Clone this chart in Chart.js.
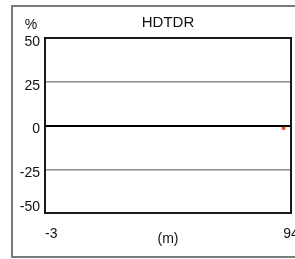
<!DOCTYPE html>
<html><head><meta charset="utf-8">
<script src="https://cdn.jsdelivr.net/npm/chart.js@4/dist/chart.umd.min.js"></script>
<style>html,body{margin:0;padding:0;background:#fff;}#wrap{width:295px;height:259px;}</style>
</head><body><div id="wrap"><canvas id="c" width="295" height="259"></canvas></div>
<script>
const chartTitle = 'HDTDR';
const yUnit = '%';
const xTitle = '(m)';
const xTicks = [-3, 94];
const yTicks = [-50, -25, 0, 25, 50];
const seriesX = [90.4, 91.8];
const seriesY = [-1.6, -1.6];

const FONT = 'Liberation Sans, Arial, sans-serif';

const framePlugin = {
  id: 'frame',
  beforeDraw(chart) {
    const ctx = chart.ctx;
    ctx.save();
    ctx.strokeStyle = '#7a7a7a';
    ctx.lineWidth = 2;
    ctx.strokeRect(12, 6, 300, 251);
    ctx.restore();
    const ys = chart.scales.y;
    const yi = ys.getLabelItems();
    if (!ys._adj) {
      yi.forEach(it => {
        const v = parseFloat(it.label);
        it.options.translation[1] += (v === -50 ? -6 : 4);
      });
      ys._adj = true;
    }
    const xs = chart.scales.x;
    const xi = xs.getLabelItems();
    if (!xs._adj && xi.length) {
      xi[0].options.textAlign = 'left';
      xs._adj = true;
    }
  },
  afterDraw(chart) {
    const ctx = chart.ctx;
    const a = chart.chartArea;
    ctx.save();
    ctx.strokeStyle = '#1a1a1a';
    ctx.lineWidth = 2;
    ctx.strokeRect(a.left, a.top, a.right - a.left, a.bottom - a.top);
    ctx.fillStyle = '#111';
    ctx.font = '14px ' + FONT;
    ctx.textAlign = 'center';
    ctx.textBaseline = 'middle';
    ctx.fillText(yUnit, 31, 25);
    ctx.restore();
  }
};

new Chart(document.getElementById('c'), {
  type: 'line',
  data: {
    datasets: [{
      data: seriesX.map((x, i) => ({x, y: seriesY[i]})),
      borderColor: '#e4501e',
      borderWidth: 3,
      pointRadius: 0,
      fill: false
    }]
  },
  options: {
    responsive: false,
    animation: false,
    layout: {padding: {left: 0, top: 0, right: 4, bottom: 0}},
    plugins: {
      legend: {display: false},
      tooltip: {enabled: false},
      title: {
        display: true, text: chartTitle, fullSize: false,
        color: '#111', font: {family: FONT, size: 15, weight: 'normal'},
        padding: {top: 14, bottom: 6}
      }
    },
    scales: {
      x: {
        type: 'linear', min: xTicks[0], max: xTicks[xTicks.length - 1],
        afterBuildTicks(ax) { ax.ticks = xTicks.map(v => ({value: v})); },
        afterFit(ax) { ax.height = 46; ax.paddingLeft = 0; ax.paddingRight = 0; },
        grid: {display: false, drawTicks: false},
        border: {display: false},
        ticks: {color: '#111', font: {family: FONT, size: 14}, padding: 13, maxRotation: 0, autoSkip: false},
        title: {display: true, text: xTitle, color: '#111', font: {family: FONT, size: 14}, padding: {top: 0, bottom: 11}}
      },
      y: {
        min: yTicks[0], max: yTicks[yTicks.length - 1],
        afterBuildTicks(ax) { ax.ticks = yTicks.map(v => ({value: v})); },
        afterFit(ax) { ax.width = 45; ax.paddingTop = 0; ax.paddingBottom = 0; },
        grid: {
          drawTicks: false,
          color: c => c.tick && c.tick.value === 0 ? '#000' : '#8c8c8c',
          lineWidth: c => c.tick && c.tick.value === 0 ? 2 : 1.5
        },
        border: {display: true, color: '#1a1a1a', width: 2},
        ticks: {color: '#111', font: {family: FONT, size: 14}, padding: 5}
      }
    }
  },
  plugins: [framePlugin]
});
</script></body></html>
